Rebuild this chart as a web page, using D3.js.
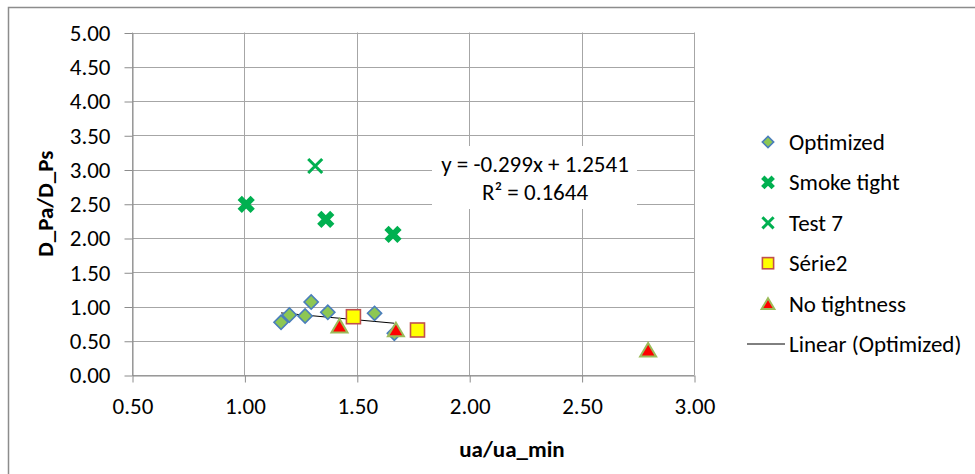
<!DOCTYPE html>
<html>
<head>
<meta charset="utf-8">
<script src="https://cdn.jsdelivr.net/npm/d3@7"></script>
<style>
  body { margin: 0; background: #fff; }
  svg { font-family: Carlito, Calibri, Lato, sans-serif; }
</style>
</head>
<body>
<svg id="chart" width="975" height="474"></svg>
<script>
// series
const optimizedX = [1.163, 1.200, 1.270, 1.297, 1.371, 1.579, 1.667];
const optimizedY = [0.769, 0.876, 0.861, 1.066, 0.915, 0.900, 0.609];
const smokeX = [1.008, 1.362, 1.661];
const smokeY = [2.492, 2.273, 2.054];
const test7X = [1.315];
const test7Y = [3.051];
const serie2X = [1.485, 1.770];
const serie2Y = [0.851, 0.657];
const noTightX = [1.423, 1.674, 2.796];
const noTightY = [0.720, 0.664, 0.369];
const trendSlope = -0.299, trendIntercept = 1.2541;
const xTicks = [0.5, 1, 1.5, 2, 2.5, 3];
const yTicks = [0, 0.5, 1, 1.5, 2, 2.5, 3, 3.5, 4, 4.5, 5];
const legendNames = ["Optimized", "Smoke tight", "Test 7", "Série2", "No tightness", "Linear (Optimized)"];

const svg = d3.select("#chart");
const x = d3.scaleLinear().domain([0.5, 3]).range([132, 694]);
const y = d3.scaleLinear().domain([0, 5]).range([375, 32.5]);
const fmt = d3.format(".2f");
const grid = "#a6a6a6";
const fs = 23;

// chart area border
svg.append("rect").attr("x", 8.5).attr("y", 7.5).attr("width", 1000).attr("height", 500)
  .attr("fill", "none").attr("stroke", "#8c8c8c").attr("stroke-width", 1.5);

// gridlines
svg.append("g").selectAll("line").data(yTicks).enter().append("line")
  .attr("x1", x(0.5)).attr("x2", x(3)).attr("y1", d => Math.round(y(d)) + 0.5).attr("y2", d => Math.round(y(d)) + 0.5)
  .attr("stroke", grid);
svg.append("g").selectAll("line").data(xTicks).enter().append("line")
  .attr("y1", y(0)).attr("y2", y(5)).attr("x1", d => Math.round(x(d)) + 0.5).attr("x2", d => Math.round(x(d)) + 0.5)
  .attr("stroke", grid);

// axes
const xAxis = svg.append("g").attr("transform", `translate(0.5,${Math.round(y(0)) + 0.5})`)
  .call(d3.axisBottom(x).tickValues(xTicks).tickFormat(fmt).tickSize(7).tickPadding(15).tickSizeOuter(0));
const yAxis = svg.append("g").attr("transform", `translate(${Math.round(x(0.5)) + 0.5},0.5)`)
  .call(d3.axisLeft(y).tickValues(yTicks).tickFormat(fmt).tickSize(8).tickPadding(14).tickSizeOuter(0));
[xAxis, yAxis].forEach(a => {
  a.selectAll("path, line").attr("stroke", "#8c8c8c");
  a.selectAll("text").attr("font-size", fs).attr("fill", "#000").attr("font-family", "Carlito, Calibri, Lato, sans-serif");
});

// axis titles
svg.append("text").attr("x", 512).attr("y", 457).attr("text-anchor", "middle")
  .attr("font-size", fs).attr("font-weight", "bold").text("ua/ua_min");
svg.append("text").attr("transform", `translate(53,${(y(0) + y(5)) / 2}) rotate(-90)`).attr("text-anchor", "middle")
  .attr("font-size", fs).attr("font-weight", "bold").text("D_Pa/D_Ps");

// marker shapes
function xMark(g, s, w, col) {
  g.append("path").attr("d", `M${-s},${-s}L${s},${s}M${-s},${s}L${s},${-s}`)
    .attr("stroke", col).attr("stroke-width", w).attr("fill", "none");
}
function drawPoint(g, kind, scale = 1) {
  if (kind === 0) {
    g.append("rect").attr("x", -5 * scale).attr("y", -5 * scale).attr("width", 10 * scale).attr("height", 10 * scale)
      .attr("transform", "rotate(45)").attr("fill", "#8dc753").attr("stroke", "#4a7ebb").attr("stroke-width", 1.6);
  } else if (kind === 1) {
    xMark(g, 6.5 * scale, 6 * scale, "#00b050");
  } else if (kind === 2) {
    xMark(g, 7 * scale, 3, "#00b050");
  } else if (kind === 3) {
    g.append("rect").attr("x", -7 * scale).attr("y", -7 * scale).attr("width", 14 * scale).attr("height", 14 * scale)
      .attr("fill", "#ffff00").attr("stroke", "#c0504d").attr("stroke-width", 1.6);
  } else if (kind === 4) {
    const s = 8 * scale;
    g.append("path").attr("d", `M0,${-s * 0.85}L${s},${s * 0.85}L${-s},${s * 0.85}Z`)
      .attr("fill", "#ff0000").attr("stroke", "#9bbb59").attr("stroke-width", 2);
  }
}

// trendline
const tx0 = d3.min(optimizedX), tx1 = d3.max(optimizedX);
svg.append("line")
  .attr("x1", x(tx0)).attr("y1", y(trendSlope * tx0 + trendIntercept))
  .attr("x2", x(tx1)).attr("y2", y(trendSlope * tx1 + trendIntercept))
  .attr("stroke", "#000").attr("stroke-width", 1);

const series = [
  [optimizedX, optimizedY], [smokeX, smokeY], [test7X, test7Y], [serie2X, serie2Y], [noTightX, noTightY]
];
series.forEach(([xs, ys], k) => {
  xs.forEach((v, i) => {
    const g = svg.append("g").attr("transform", `translate(${x(v)},${y(ys[i])})`);
    drawPoint(g, k);
  });
});

// equation label
const eq = svg.append("g");
eq.append("rect").attr("x", 432).attr("y", 146).attr("width", 205).attr("height", 63).attr("fill", "#fff");
eq.append("text").attr("x", 535).attr("y", 172).attr("text-anchor", "middle").attr("font-size", fs)
  .text(`y = ${trendSlope}x + ${trendIntercept}`);
eq.append("text").attr("x", 535).attr("y", 200).attr("text-anchor", "middle").attr("font-size", fs)
  .text("R² = 0.1644");

// legend
const leg = svg.append("g");
legendNames.forEach((name, i) => {
  const ly = 142 + i * 40.4;
  const g = leg.append("g").attr("transform", `translate(768,${ly})`);
  if (i < 5) drawPoint(g, i, 0.8);
  else g.append("line").attr("x1", -21).attr("x2", 17).attr("stroke", "#000");
  leg.append("text").attr("x", 789).attr("y", ly + 8).attr("font-size", fs).text(name);
});
</script>
</body>
</html>
